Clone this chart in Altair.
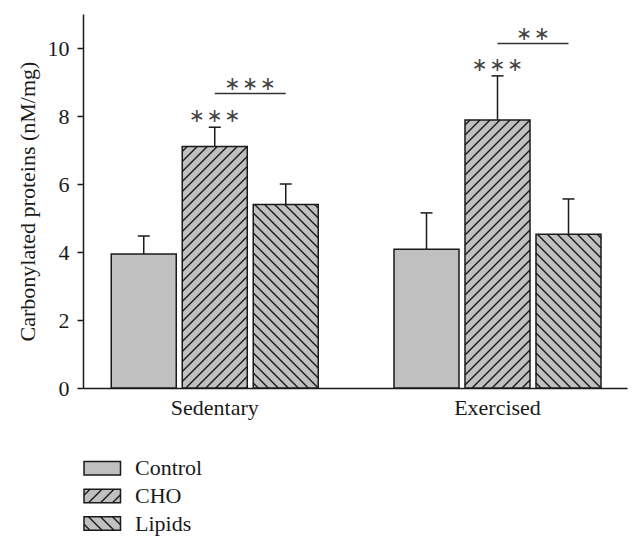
import altair as alt
import numpy as np
import pandas as pd

# ---------------- data ----------------
groups = ["Sedentary", "Exercised"]
treatments = ["Control", "CHO", "Lipids"]
control_mean = [3.94, 4.08]
cho_mean = [7.10, 7.88]
lipids_mean = [5.40, 4.52]
control_upper = [4.47, 5.15]
cho_upper = [7.67, 9.18]
lipids_upper = [6.00, 5.56]
cho_vs_control_stars = ["∗\u200a∗\u200a∗", "∗\u200a∗\u200a∗"]
cho_vs_lipids_stars = ["∗\u200a∗\u200a∗", "∗\u200a∗"]
cho_vs_lipids_level = [8.66, 10.13]
y_ticks = [0, 2, 4, 6, 8, 10]
y_title = "Carbonylated proteins (nM/mg)"

# ---------------- layout / style ----------------
W, H = 544, 374
YMAX = 11
PX = H / YMAX  # pixels per y unit
GROUP_CENTER0 = 131.75
GROUP_SPACING = 282.75
BAR_STEP = 71
BAR_W = 65
CAP_HALF = 6
HATCH_SPACING = 10
HATCH = {"Control": None, "CHO": "/", "Lipids": "\\"}
FILL = "#c0c0c0"
INK = "#1a1a1a"
FONT = "Liberation Serif"
FS = 22

means = {"Control": control_mean, "CHO": cho_mean, "Lipids": lipids_mean}
uppers = {"Control": control_upper, "CHO": cho_upper, "Lipids": lipids_upper}


def hatch_segments(x0, x1, ybase, hpx, kind, spacing):
    """Diagonal hatch lines clipped to the rectangle [x0,x1] x [ybase, ybase+hpx/PX]."""
    segs = []
    w = x1 - x0
    if kind == "/":
        for k in np.arange(-hpx + spacing / 2, w, spacing):
            xs = max(0, k)
            xe = min(w, k + hpx)
            if xe - xs > 0.5:
                segs.append((x0 + xs, ybase + (xs - k) / PX, x0 + xe, ybase + (xe - k) / PX))
    elif kind == "\\":
        for k in np.arange(spacing / 2, w + hpx, spacing):
            xs = max(0, k - hpx)
            xe = min(w, k)
            if xe - xs > 0.5:
                segs.append((x0 + xs, ybase + (k - xs) / PX, x0 + xe, ybase + (k - xe) / PX))
    return segs


bar_rows, hatch_rows, err_rows = [], [], []
for gi, g in enumerate(groups):
    for ti, t in enumerate(treatments):
        xc = GROUP_CENTER0 + gi * GROUP_SPACING + (ti - 1) * BAR_STEP
        x0, x1 = xc - BAR_W / 2, xc + BAR_W / 2
        m = means[t][gi]
        u = uppers[t][gi]
        bar_rows.append({"x": x0, "x2": x1, "y": 0, "y2": m, "group": g, "treatment": t})
        err_rows.append({"x": xc, "xl": xc - CAP_HALF, "xr": xc + CAP_HALF, "m": m, "u": u})
        if HATCH[t]:
            for (a, b, c, d) in hatch_segments(x0, x1, 0, m * PX, HATCH[t], HATCH_SPACING):
                hatch_rows.append({"x": a, "y": b, "x2": c, "y2": d})

bars = pd.DataFrame(bar_rows)
errs = pd.DataFrame(err_rows)

# significance annotations
sig_rows, star_rows = [], []
for gi, g in enumerate(groups):
    xc_cho = GROUP_CENTER0 + gi * GROUP_SPACING
    xc_lip = xc_cho + BAR_STEP
    lvl = cho_vs_lipids_level[gi]
    sig_rows.append({"x": xc_cho, "x2": xc_lip, "y": lvl})
    star_rows.append({"x": (xc_cho + xc_lip) / 2, "y": lvl + 10 / PX, "t": cho_vs_lipids_stars[gi]})
    star_rows.append({"x": xc_cho, "y": cho_upper[gi] + 11 / PX, "t": cho_vs_control_stars[gi]})
sig = pd.DataFrame(sig_rows)
stars = pd.DataFrame(star_rows)

cat_labels = pd.DataFrame({
    "x": [GROUP_CENTER0 + i * GROUP_SPACING for i in range(len(groups))],
    "y": [-20 / PX] * len(groups),
    "t": groups,
})

# legend (drawn below the axis)
LEG_X0, LEG_X1 = 1, 37.5
LEG_H = 13.5
LEG_ROW0 = 80.3   # px below axis for first row centre
LEG_ROW_STEP = 27.6
leg_rows, leg_hatch, leg_text = [], [], []
for ti, t in enumerate(treatments):
    yc = -(LEG_ROW0 + ti * LEG_ROW_STEP) / PX
    yb = yc - LEG_H / 2 / PX
    leg_rows.append({"x": LEG_X0, "x2": LEG_X1, "y": yb, "y2": yb + LEG_H / PX})
    leg_text.append({"x": 52, "y": yc, "t": t})
    if HATCH[t]:
        for (a, b, c, d) in hatch_segments(LEG_X0, LEG_X1, yb, LEG_H, HATCH[t], 12):
            leg_hatch.append({"x": a, "y": b, "x2": c, "y2": d})
legend_boxes = pd.DataFrame(leg_rows)
legend_hatch = pd.DataFrame(leg_hatch)
legend_text = pd.DataFrame(leg_text)

# ---------------- encodings ----------------
xscale = alt.Scale(domain=[0, W], nice=False, zero=False)
yscale = alt.Scale(domain=[0, YMAX], nice=False)
X = lambda f="x": alt.X(f"{f}:Q", scale=xscale, axis=alt.Axis(domain=True, ticks=False, labels=False, grid=False, title=None))
Y = lambda f="y": alt.Y(f"{f}:Q", scale=yscale, axis=alt.Axis(values=y_ticks, grid=False, title=y_title))

bar_fill = alt.Chart(bars).mark_rect(fill=FILL, strokeWidth=0).encode(
    x=X(), x2="x2:Q", y=Y(), y2="y2:Q")
bar_hatch = alt.Chart(pd.DataFrame(hatch_rows)).mark_rule(color=INK, strokeWidth=1.4).encode(
    x=X(), x2="x2:Q", y=Y(), y2="y2:Q")
bar_outline = alt.Chart(bars).mark_rect(fillOpacity=0, stroke=INK, strokeWidth=1.5).encode(
    x=X(), x2="x2:Q", y=Y(), y2="y2:Q")
err_stem = alt.Chart(errs).mark_rule(color=INK, strokeWidth=1.5).encode(
    x=X(), y=Y("m"), y2="u:Q")
err_cap = alt.Chart(errs).mark_rule(color=INK, strokeWidth=1.5).encode(
    x=X("xl"), x2="xr:Q", y=Y("u"))
sig_line = alt.Chart(sig).mark_rule(color="#333333", strokeWidth=1.5).encode(
    x=X(), x2="x2:Q", y=Y())
star_text = alt.Chart(stars).mark_text(font="DejaVu Sans", fontSize=19, color="#444444", baseline="middle").encode(
    x=X(), y=Y(), text="t:N")
cat_text = alt.Chart(cat_labels).mark_text(font=FONT, fontSize=FS, color=INK, baseline="middle").encode(
    x=X(), y=Y(), text="t:N")
leg_fill = alt.Chart(legend_boxes).mark_rect(fill=FILL, strokeWidth=0).encode(
    x=X(), x2="x2:Q", y=Y(), y2="y2:Q")
leg_h = alt.Chart(legend_hatch).mark_rule(color=INK, strokeWidth=1.4).encode(
    x=X(), x2="x2:Q", y=Y(), y2="y2:Q")
leg_out = alt.Chart(legend_boxes).mark_rect(fillOpacity=0, stroke=INK, strokeWidth=1.5).encode(
    x=X(), x2="x2:Q", y=Y(), y2="y2:Q")
leg_txt = alt.Chart(legend_text).mark_text(font=FONT, fontSize=FS, color=INK, align="left", baseline="middle").encode(
    x=X(), y=Y(), text="t:N")

chart = alt.layer(
    bar_fill, bar_hatch, bar_outline, err_stem, err_cap, sig_line, star_text, cat_text,
    leg_fill, leg_h, leg_out, leg_txt,
).properties(
    width=W, height=H,
    autosize=alt.AutoSizeParams(type="none"),
    padding={"left": 75, "top": 6, "right": 7, "bottom": 155},
).configure_view(stroke=None).configure_axis(
    domainColor=INK, domainWidth=1.5, tickColor=INK, tickWidth=1.5, tickSize=6,
    labelFont=FONT, labelFontSize=FS, labelColor=INK, labelPadding=8,
    titleFont=FONT, titleFontSize=FS, titleFontWeight="normal", titleColor=INK, titlePadding=8,
)

chart.save("out.html", embed_options={"renderer": "svg", "actions": False})
